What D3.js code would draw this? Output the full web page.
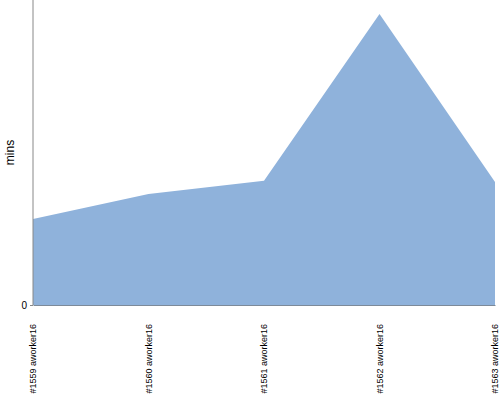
<!DOCTYPE html>
<html><head><meta charset="utf-8">
<script src="https://cdnjs.cloudflare.com/ajax/libs/d3/7.8.5/d3.min.js"></script>
<style>body{margin:0;background:#fff}svg{display:block}</style>
</head><body>
<script>
const categories = ["#1559 aworker16","#1560 aworker16","#1561 aworker16","#1562 aworker16","#1563 aworker16"];
const values = [28.2, 36.4, 40.7, 95.4, 40.3];
const yTicks = [0];

const W = 500, H = 400;
const m = {left: 33, right: 5, top: 0, bottom: 95};
const svg = d3.select("body").append("svg").attr("width", W).attr("height", H);
const x = d3.scalePoint().domain(categories).range([m.left, W - m.right]);
const y = d3.scaleLinear().domain([0, 100]).range([H - m.bottom, m.top]);

const area = d3.area().x((d, i) => x(categories[i])).y0(y(0)).y1(d => y(d));
svg.append("path").datum(values).attr("d", area).attr("fill", "#8fb2db");

const ya = svg.append("g").attr("transform", `translate(${m.left},0)`)
  .call(d3.axisLeft(y).tickValues(yTicks).tickSize(3).tickPadding(3));
ya.select(".domain").attr("stroke", "#888").attr("d", `M0,${y(0)}V0`);
ya.selectAll(".tick line").attr("stroke", "#888");
ya.selectAll("text").attr("font-family", "Liberation Sans, Arial, sans-serif").attr("font-size", 10).attr("fill", "#000");

const xa = svg.append("g").attr("transform", `translate(0,${y(0)})`)
  .call(d3.axisBottom(x).tickSize(0).tickPadding(0));
xa.select(".domain").attr("stroke", "#7d8a99");
xa.selectAll("text")
  .attr("font-family", "Liberation Sans, Arial, sans-serif").attr("font-size", 9).attr("fill", "#000")
  .attr("transform", "rotate(-90)").attr("text-anchor", "end")
  .attr("x", -19).attr("dx", 0).attr("y", 0).attr("dy", "0.32em");

svg.append("text").attr("transform", `translate(14,${y(0)/2}) rotate(-90)`)
  .attr("text-anchor", "middle").attr("font-family", "Liberation Sans, Arial, sans-serif")
  .attr("font-size", 12).text("mins");
</script>
</body></html>
